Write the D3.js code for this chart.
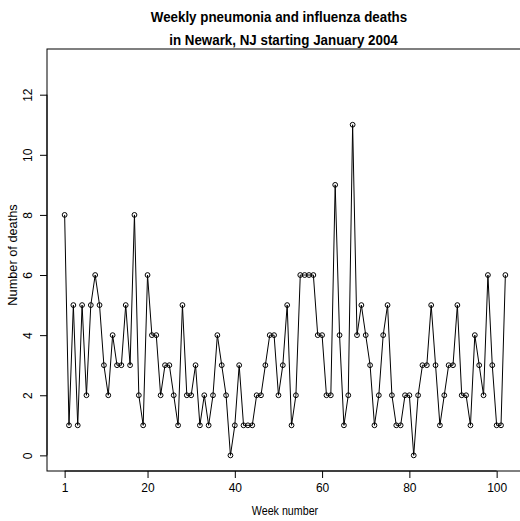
<!DOCTYPE html>
<html>
<head>
<meta charset="utf-8">
<script src="https://cdn.jsdelivr.net/npm/d3@7"></script>
<style>
  body { margin: 0; background: #fff; }
  svg { font-family: "Liberation Sans", Arial, Helvetica, sans-serif; }
  .axis path, .axis line { stroke: #000; }
  .axis text { font-size: 12px; fill: #000; }
</style>
</head>
<body>
<div id="chart"></div>
<script>
// тижневі смерті від пневмонії та грипу, Ньюарк 2004
const deaths = [
  8, 1, 5, 1, 5, 2, 5, 6, 5, 3,
  2, 4, 3, 3, 5, 3, 8, 2, 1, 6,
  4, 4, 2, 3, 3, 2, 1, 5, 2, 2,
  3, 1, 2, 1, 2, 4, 3, 2, 0, 1,
  3, 1, 1, 1, 2, 2, 3, 4, 4, 2,
  3, 5, 1, 2, 6, 6, 6, 6, 4, 4,
  2, 2, 9, 4, 1, 2, 11, 4, 5, 4,
  3, 1, 2, 4, 5, 2, 1, 1, 2, 2,
  0, 2, 3, 3, 5, 3, 1, 2, 3, 3,
  5, 2, 2, 1, 4, 3, 2, 6, 3, 1,
  1, 6
];
const weeks = deaths.map((d, i) => i + 1);
const xTicks = [1, 20, 40, 60, 80, 100];
const yTicks = [0, 2, 4, 6, 8, 10, 12];
const titleLines = ["Weekly pneumonia and influenza deaths", "in Newark, NJ starting January 2004"];

const data = weeks.map((w, i) => ({x: w, y: deaths[i]}));

const W = 520, H = 521;
const margin = {top: 49, right: -3, bottom: 50, left: 47};
const width = W - margin.left - margin.right,
      height = H - margin.top - margin.bottom;

const svg = d3.select("#chart").append("svg")
    .attr("width", W).attr("height", H);

// R-style 4% розширення діапазонів
const xPad = (102 - 1) * 0.04, yPad = 13 * 0.04;
const x = d3.scaleLinear().domain([1 - xPad, 102 + xPad]).range([margin.left, margin.left + width]);
const y = d3.scaleLinear().domain([-yPad, 13 + yPad]).range([margin.top + height, margin.top]);

// рамка
svg.append("rect")
    .attr("x", margin.left).attr("y", margin.top)
    .attr("width", width).attr("height", height)
    .attr("fill", "none").attr("stroke", "#000").attr("stroke-width", 1);

// осі
const xAxis = svg.append("g").attr("class", "axis")
    .attr("transform", `translate(0,${margin.top + height})`)
    .call(d3.axisBottom(x).tickValues(xTicks).tickSize(7).tickPadding(5).tickSizeOuter(0));
xAxis.select(".domain").attr("d", `M${x(1)},0H${x(100)}`);

const yAxis = svg.append("g").attr("class", "axis")
    .attr("transform", `translate(${margin.left},0)`)
    .call(d3.axisLeft(y).tickValues(yTicks).tickSize(7).tickSizeOuter(0));
yAxis.select(".domain").attr("d", `M0,${y(0)}V${y(12)}`);
yAxis.selectAll(".tick text")
    .attr("x", 0).attr("dy", 0)
    .attr("text-anchor", "middle")
    .attr("transform", "translate(-15,0) rotate(-90)");

// лінія + кружечки (type = "o")
const line = d3.line().x(d => x(d.x)).y(d => y(d.y));
svg.append("path").datum(data)
    .attr("d", line).attr("fill", "none").attr("stroke", "#000").attr("stroke-width", 1);

svg.selectAll(".dot").data(data).enter().append("circle")
    .attr("class", "dot")
    .attr("cx", d => x(d.x)).attr("cy", d => y(d.y)).attr("r", 2.4)
    .attr("fill", "none").attr("stroke", "#000").attr("stroke-width", 1);

// вужчий шрифт, як у R-картинці
function squeeze(sel, k) {
    sel.each(function() {
        const len = this.getComputedTextLength();
        d3.select(this).attr("textLength", len * k).attr("lengthAdjust", "spacingAndGlyphs");
    });
}

// заголовок
svg.append("text").attr("x", 279).attr("y", 22)
    .attr("text-anchor", "middle").attr("font-weight", "bold").attr("font-size", 15)
    .text(titleLines[0]).call(squeeze, 0.89);
svg.append("text").attr("x", 283.5).attr("y", 45)
    .attr("text-anchor", "middle").attr("font-weight", "bold").attr("font-size", 15)
    .text(titleLines[1]).call(squeeze, 0.89);

// підписи осей
svg.append("text").attr("x", 285).attr("y", 515)
    .attr("text-anchor", "middle").attr("font-size", 12)
    .text("Week number").call(squeeze, 0.89);
svg.append("text")
    .attr("transform", `translate(17,255) rotate(-90)`)
    .attr("text-anchor", "middle").attr("font-size", 12.5)
    .text("Number of deaths").call(squeeze, 1.02);
</script>
</body>
</html>
